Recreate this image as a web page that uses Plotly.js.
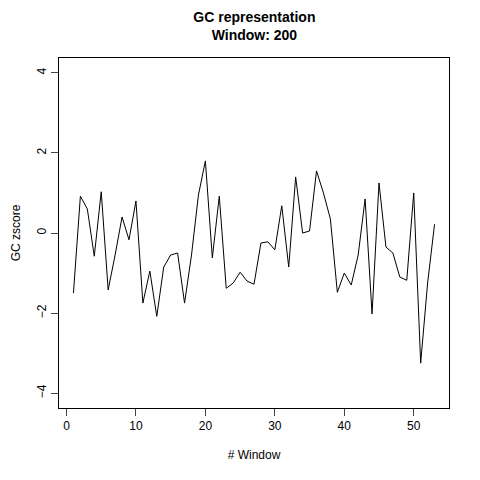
<!DOCTYPE html>
<html><head><script src="https://cdn.plot.ly/plotly-3.0.1.min.js"></script>
<style>body{margin:0}</style></head><body><div id="c" style="width:480px;height:480px"></div>
<script>
const windows = Array.from({length:53},(_,i)=>i+1);
const zscore = [-1.5,0.92,0.6,-0.58,1.03,-1.42,-0.55,0.4,-0.17,0.8,-1.75,-0.95,-2.08,-0.85,-0.55,-0.5,-1.75,-0.55,0.95,1.8,-0.62,0.92,-1.38,-1.25,-0.98,-1.2,-1.28,-0.25,-0.22,-0.42,0.68,-0.85,1.4,0.0,0.05,1.55,1.0,0.35,-1.48,-1.0,-1.3,-0.55,0.85,-2.02,1.25,-0.35,-0.5,-1.1,-1.18,1.0,-3.25,-1.25,0.22];
const f = {family:"Liberation Sans, Arial, sans-serif", size:12, color:"#000"};
Plotly.newPlot('c',[{x:windows,y:zscore,mode:'lines',line:{color:'#000',width:1}}],{
  width:480,height:480,margin:{l:59,r:31,t:58,b:72},
  paper_bgcolor:'#fff',plot_bgcolor:'#fff',showlegend:false,font:f,
  title:{text:'<b>GC representation</b><br><b>Window: 200</b>',x:0.53,xanchor:'center',y:0.955,yanchor:'top',font:{family:f.family,size:14,color:'#000'}},
  xaxis:{range:[-1.08,55.08],tickvals:[0,10,20,30,40,50],ticks:'outside',ticklen:7,showgrid:false,zeroline:false,showline:true,mirror:true,linecolor:'#000',linewidth:1,
    title:{text:'# Window',standoff:18,font:f}},
  yaxis:{range:[-4.37,4.37],tickvals:[-4,-2,0,2,4],ticks:'outside',ticklen:7,tickangle:-90,showgrid:false,zeroline:false,showline:true,mirror:true,linecolor:'#000',linewidth:1,
    title:{text:'GC zscore',standoff:12,font:f}}
},{staticPlot:true});
</script></body></html>
